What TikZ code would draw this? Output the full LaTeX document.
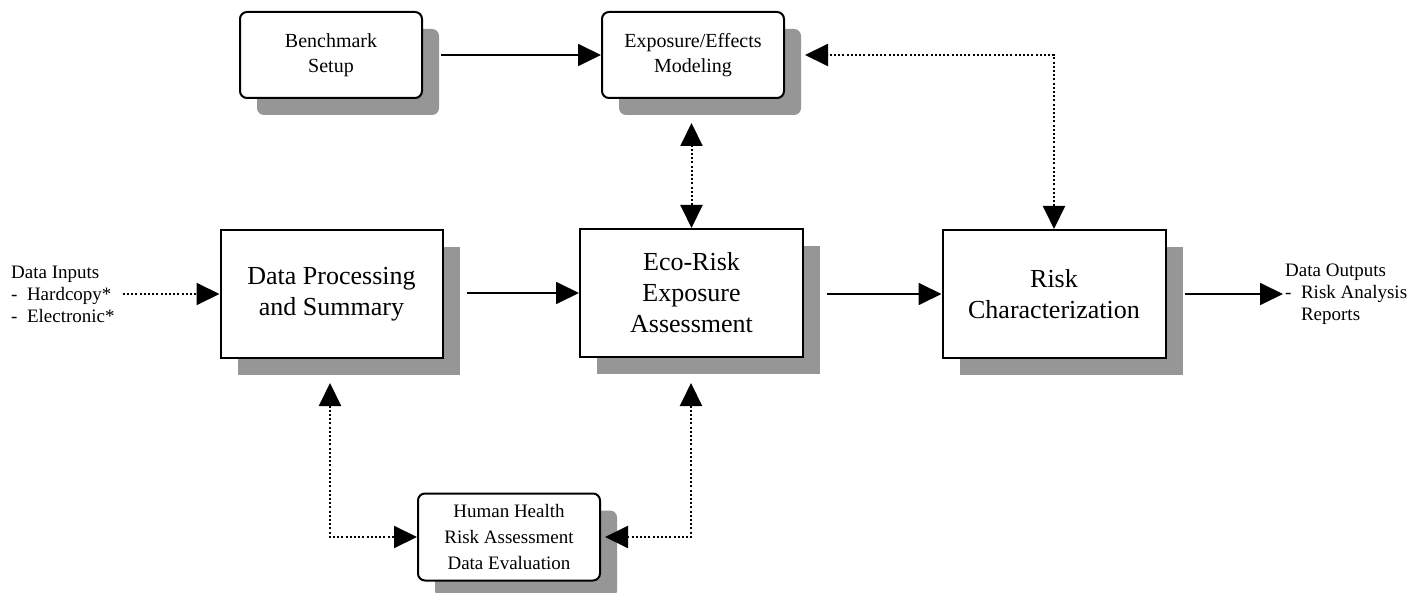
\documentclass[tikz,border=0pt]{standalone}
\usepackage{fontspec}
\setmainfont{Liberation Serif}
\usetikzlibrary{arrows.meta,shadows}
\definecolor{shadowgray}{RGB}{150,150,150}
\begin{document}
\begin{tikzpicture}[x=1pt,y=-1pt,
  box/.style={draw=black, line width=2pt, fill=white,
    drop shadow={shadow xshift=17pt, shadow yshift=-17pt, fill=shadowgray, opacity=1},
    align=center, inner sep=0pt},
  bigbox/.style={box, minimum width=222pt, minimum height=128pt, font=\fontsize{26}{31}\selectfont},
  smallbox/.style={box, rounded corners=7pt, minimum width=182pt, minimum height=86pt, font=\fontsize{20}{25}\selectfont},
  label/.style={align=left, inner sep=0pt, font=\fontsize{19}{22}\selectfont},
  solidarrow/.style={line width=1.8pt, -{Triangle[length=23pt,width=22pt]}},
  dotarrow/.style={line width=2pt, dash pattern=on 2pt off 2.2pt, -{Triangle[length=23pt,width=22pt]}},
  dotboth/.style={line width=2pt, dash pattern=on 2pt off 2.2pt, {Triangle[length=23pt,width=22pt]}-{Triangle[length=23pt,width=22pt]}}
]
\fill[white] (0,0) rectangle (1420,593);
\useasboundingbox (0,0) rectangle (1420,593);

% boxes
\node[smallbox] (bench) at (331,55) {Benchmark\\Setup};
\node[smallbox] (expo) at (693,55) {Exposure/Effects\\Modeling};
\node[bigbox] (dp) at (331.5,294) {Data Processing\\and Summary};
\node[bigbox, minimum width=223pt] (eco) at (691.5,293) {Eco-Risk\\Exposure\\Assessment};
\node[bigbox, minimum width=223pt] (risk) at (1054,294) {Risk\\Characterization};
\node[smallbox, font=\fontsize{19}{26}\selectfont, minimum height=87pt] (hh) at (509,537) {Human Health\\Risk Assessment\\Data Evaluation};

% side labels
\node[label, anchor=west] (datain) at (11,294) {Data Inputs\\- \ Hardcopy*\\- \ Electronic*};
\node[label, anchor=west] (dataout) at (1285,294) {Data Outputs\\- \ Risk Analysis\\\phantom{- \ }Reports};

% free ends
\coordinate (outp) at (1283,294);
\coordinate (ee) at (691.5,123);
\coordinate (c1) at (330,383);
\coordinate (c2) at (691,383);

% solid arrows
\draw[solidarrow, shorten <=18pt] (bench.east) -- (expo.west);
\draw[solidarrow, shorten <=23pt] (dp.east |- eco.west) -- (eco.west);
\draw[solidarrow, shorten <=23pt] (eco.east |- risk.west) -- (risk.west);
\draw[solidarrow, shorten <=18pt] (risk.east) -- (risk.east -| outp);

% dotted arrows
\draw[dotarrow, shorten <=8pt] (datain.east |- dp.west) -- (dp.west);
\draw[dotboth] (eco.north) -- (ee);
\draw[dotboth, shorten >=20pt] (risk.north) -- (risk.north |- expo.east) -- (expo.east);
\draw[dotboth] (c1) -- (c1 |- hh.west) -- (hh.west);
\draw[dotboth, shorten >=4pt] (c2) -- (c2 |- hh.east) -- (hh.east);
\end{tikzpicture}
\end{document}
